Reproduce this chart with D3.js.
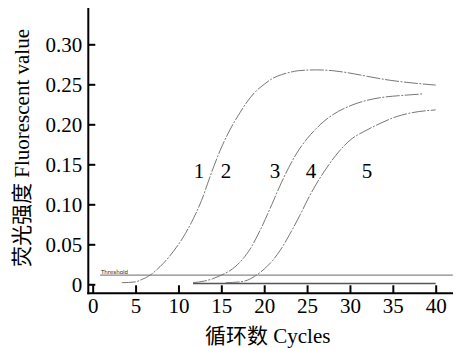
<!DOCTYPE html>
<html>
<head>
<meta charset="utf-8">
<script src="https://cdn.jsdelivr.net/npm/d3@7"></script>
<style>
  body { margin: 0; background: #fff; }
  svg { display: block; }
</style>
</head>
<body>
<svg width="460" height="348"></svg>
<script>
// amplification curves (cycle, fluorescent value)
const cycles1 = [3.4, 5, 5.5, 6.7, 7.85, 9.4, 10.5, 11.5, 12.7, 13.8, 14.85, 16, 17.2, 18, 19, 20, 21, 22, 23, 24, 26.1, 28, 30, 32, 34.7, 37, 40];
const values1 = [0.002, 0.003, 0.005, 0.0115, 0.022, 0.041, 0.058, 0.077, 0.105, 0.138, 0.167, 0.193, 0.215, 0.228, 0.241, 0.25, 0.2575, 0.262, 0.265, 0.267, 0.268, 0.267, 0.264, 0.26, 0.255, 0.252, 0.249];

const cycles2 = [11.7, 13, 14, 15, 16, 17.2, 18.35, 19.5, 20.9, 22, 23.8, 25, 26.1, 27, 28, 30, 32, 34, 36, 38.5];
const values2 = [0.002, 0.004, 0.007, 0.0115, 0.017, 0.028, 0.044, 0.067, 0.1, 0.127, 0.164, 0.182, 0.195, 0.204, 0.212, 0.223, 0.23, 0.234, 0.236, 0.238];

const cycles3 = [15.5, 17.2, 18, 19.1, 20, 21, 21.9, 23, 24.2, 25.1, 26, 27, 28.8, 30, 32, 33.5, 35.4, 37, 40];
const values3 = [0.002, 0.003, 0.005, 0.0115, 0.019, 0.03, 0.043, 0.063, 0.087, 0.1065, 0.124, 0.141, 0.167, 0.18, 0.193, 0.201, 0.2095, 0.214, 0.218];

// flat curves lying on zero
const baseCycles = [11.7, 40];
const baseValues = [0.001, 0.001];

// threshold line
const thresholdValue = 0.0115;
const thresholdCycles = [0.85, 42];

// curve numbers
const curveLabels = ["1", "2", "3", "4", "5"];
const labelCycles = [12.4, 15.55, 21.26, 25.46, 32.0];
const labelValue = 0.133;

const xTicks = [0, 5, 10, 15, 20, 25, 30, 35, 40];
const yTicks = [0, 0.05, 0.10, 0.15, 0.20, 0.25, 0.30];

const serif = '"Liberation Serif", "Noto Sans CJK SC", serif';

const svg = d3.select("svg");

const x = d3.scaleLinear().domain([0, 40]).range([92.7, 435.7]);
const y = d3.scaleLinear().domain([0, 0.30]).range([284.3, 44.3]);

const axisX = 88.3, axisY = 293.3;

// curves
const line = d3.line()
    .x(d => x(d[0]))
    .y(d => y(d[1]))
    .curve(d3.curveMonotoneX);

const zip = (a, b) => a.map((v, i) => [v, b[i]]);

svg.append("path")
    .attr("d", line(zip(baseCycles, baseValues)))
    .attr("fill", "none")
    .attr("stroke", "#555")
    .attr("stroke-width", 1.3);

svg.append("path")
    .attr("d", line(zip(thresholdCycles, [thresholdValue, thresholdValue])))
    .attr("fill", "none")
    .attr("stroke", "#888")
    .attr("stroke-width", 1.3);

svg.append("text")
    .attr("x", x(thresholdCycles[0]) + 1)
    .attr("y", y(thresholdValue) - 1.5)
    .style("font-size", "5.5px")
    .style("font-family", "DejaVu Sans")
    .attr("fill", "#222")
    .text("Threshold");

[[cycles1, values1], [cycles2, values2], [cycles3, values3]].forEach(([c, v]) => {
    svg.append("path")
        .attr("d", line(zip(c, v)))
        .attr("fill", "none")
        .attr("stroke", "#777")
        .attr("stroke-width", 1)
        .attr("stroke-dasharray", "14,1.5,2,1.5");
});

// curve numbers
svg.selectAll(".num")
    .data(curveLabels)
    .enter().append("text")
    .attr("class", "num")
    .attr("x", (d, i) => x(labelCycles[i]))
    .attr("y", y(labelValue))
    .attr("text-anchor", "middle")
    .style("font-family", serif)
    .style("font-size", "21px")
    .text(d => d);

// axes
const gx = svg.append("g")
    .attr("transform", "translate(0," + axisY + ")")
    .call(d3.axisBottom(x).tickValues(xTicks).tickSizeInner(-8).tickSizeOuter(0).tickPadding(5));

const gy = svg.append("g")
    .attr("transform", "translate(" + axisX + ",0)")
    .call(d3.axisLeft(y).tickValues(yTicks).tickSizeInner(-7).tickSizeOuter(0).tickPadding(6)
        .tickFormat(d => d === 0 ? "0" : d3.format(".2f")(d)));

[gx, gy].forEach(g => {
    g.select(".domain").remove();
    g.selectAll(".tick line").attr("stroke", "#000").attr("stroke-width", 2);
    g.selectAll(".tick text")
        .style("font-family", serif)
        .style("font-size", "21px")
        .attr("fill", "#000");
});

svg.append("line")
    .attr("x1", axisX).attr("x2", axisX)
    .attr("y1", 8).attr("y2", axisY + 1)
    .attr("stroke", "#000").attr("stroke-width", 2);

svg.append("line")
    .attr("x1", axisX - 1).attr("x2", 453)
    .attr("y1", axisY).attr("y2", axisY)
    .attr("stroke", "#000").attr("stroke-width", 2);

// axis titles
svg.append("text")
    .attr("x", 205)
    .attr("y", 343)
    .style("font-family", serif)
    .style("font-size", "21px")
    .text("循环数 Cycles");

svg.append("text")
    .attr("transform", "translate(29,148) rotate(-90)")
    .attr("text-anchor", "middle")
    .style("font-family", serif)
    .style("font-size", "21px")
    .text("荧光强度 Fluorescent value");
</script>
</body>
</html>
